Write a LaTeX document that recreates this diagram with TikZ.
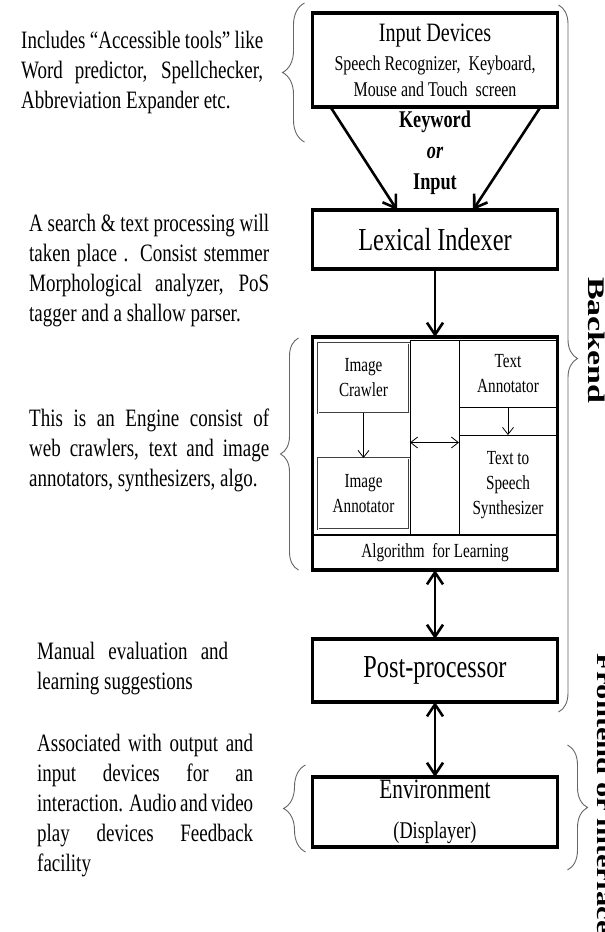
\documentclass[tikz,border=0pt]{standalone}
\usepackage{fontspec}
\setmainfont{Liberation Serif}[FakeStretch=0.76]
\newfontfamily\plainserif{Liberation Serif}
\usetikzlibrary{arrows.meta,positioning,calc,decorations.pathreplacing}

\begin{document}
\begin{tikzpicture}[x=1pt, y=-1pt,
    >={Straight Barb[length=12pt,width=16pt]},
    box/.style={rectangle, draw, line width=3.5pt, minimum width=245pt, inner sep=0pt, outer sep=0pt, align=center},
    inbox/.style={rectangle, draw, line width=0.8pt, inner sep=0pt, outer sep=0pt, align=center, font=\fontsize{20}{25}\selectfont},
    note/.style={anchor=north west, inner sep=0pt, align=justify, font=\fontsize{25}{30}\selectfont},
    brc/.style={decorate, decoration={brace, amplitude=#1}, draw=black!60, line width=0.9pt},
    thinarr/.style={line width=0.8pt, -{Straight Barb[length=7pt,width=11pt]}},
    thinboth/.style={line width=0.8pt, {Straight Barb[length=7pt,width=11pt]}-{Straight Barb[length=7pt,width=11pt]}}]
        \path[use as bounding box, fill=white] (0,0) rectangle (605,932);

        % Main column
        \node (input) [box, minimum height=94pt, font=\fontsize{21}{26}\selectfont] at (435,60) {{\fontsize{26.5}{26}\selectfont Input Devices}\\[3pt] Speech Recognizer,\ \ Keyboard,\\ Mouse and Touch\ \ screen};
        \node (kw) [below=4pt of input, inner sep=0pt, align=center, font=\bfseries\fontsize{24}{31}\selectfont] {Keyword\\{\itshape or}\\Input};
        \node (lex) [box, minimum height=59pt, below=103pt of input, font=\fontsize{32}{32}\selectfont] {Lexical Indexer};
        \node (engine) [box, minimum height=233pt, below=68pt of lex] {};
        \node (post) [box, minimum height=63pt, below=69pt of engine, font=\fontsize{32}{32}\selectfont] {Post-processor};
        \node (env) [box, minimum height=70pt, below=75pt of post, font=\fontsize{24}{28}\selectfont] {{\fontsize{28}{28}\selectfont Environment}\\[12pt](Displayer)};

        % Engine parts
        \node (imgcrawl) [inbox, draw=black!75, double, double distance=0.8pt, line width=0.6pt, minimum width=91pt, minimum height=70pt] at (363.5,378) {Image\\Crawler};
        \node (imgann) [inbox, draw=black!75, double, double distance=0.8pt, line width=0.6pt, minimum width=91pt, minimum height=71pt] at (363.5,493.5) {Image\\Annotator};
        \node (hub) [inbox, minimum width=49pt, minimum height=195pt] at (434.5,437.5) {};
        \node (txtann) [inbox, minimum width=98pt, minimum height=67pt] at (508,373.5) {Text\\Annotator};
        \node (tts) [inbox, minimum width=98pt, minimum height=100pt] at (508,485) {Text to\\Speech\\Synthesizer};
        \node (algo) [inbox, line width=2.5pt, minimum width=245pt, minimum height=35pt] at (435,552.5) {Algorithm\ \ for Learning};
        \draw[line width=3.5pt] (engine.north west) rectangle (engine.south east);

        % Arrows
        \draw[->, line width=2.6pt] ($(input.south west)+(18,0)$) -- ($(lex.north)+(-38,0)$);
        \draw[->, line width=2.6pt] ($(input.south east)+(-17,0)$) -- ($(lex.north)+(38,0)$);
        \draw[->, line width=2.6pt] (lex) -- (engine);
        \draw[<->, line width=2.6pt] (engine) -- (post);
        \draw[<->, line width=2.6pt] (post) -- (env);
        \draw[thinarr] (imgcrawl) -- (imgann);
        \draw[thinarr] (txtann) -- (tts);
        \draw[thinboth] ([yshift=-5pt]hub.west) -- ([yshift=-5pt]hub.east);

        % Notes on the left
        \node (n1) [note, text width=242pt] at (21,31) {Includes “Accessible tools” like\linebreak Word predictor, Spellchecker,\linebreak Abbreviation Expander etc.};
        \node (n2) [note, text width=240pt] at (29,214) {A search \& text processing will\linebreak taken place . Consist stemmer\linebreak Morphological analyzer, PoS\linebreak tagger and a shallow parser.};
        \node (n3) [note, text width=240pt] at (29,409) {This is an Engine consist of\linebreak web crawlers, text and image\linebreak annotators, synthesizers, algo.};
        \node (n4) [note, text width=191pt] at (37,642) {Manual evaluation and\linebreak learning suggestions};
        \node (n5) [note, text width=216pt] at (37,734) {Associated with output and\linebreak input devices for an\linebreak interaction. Audio and video\linebreak play devices Feedback\linebreak facility};

        % Braces
        \draw[brc=22pt] ($(input.south west)+(-8,35)$) -- ($(input.north west)+(-8,-10)$);
        \draw[brc=18pt] ($(engine.south west)+(-14,0)$) -- ($(engine.north west)+(-14,1)$);
        \draw[brc=22pt] ($(env.south west)+(-7,5)$) -- ($(env.north west)+(-7,-12)$);
        \draw[brc=19pt] ($(input.north east)+(1,-8)$) -- ($(post.south east)+(1,10)$);
        \draw[brc=20pt] ($(env.north east)+(10,-32)$) -- ($(env.south east)+(10,23)$);

        % Side labels
        \node (backlbl) [rotate=-90, anchor=base west, inner sep=0pt, font=\plainserif\bfseries\fontsize{34}{34}\selectfont] at (588,277) {\scalebox{1}[0.7]{Backend}};
        \node (frontlbl) [rotate=-90, anchor=base west, inner sep=0pt, font=\plainserif\bfseries\fontsize{30.5}{30.5}\selectfont] at (597,653) {\scalebox{1}[0.7]{Frontend or interface}};
    \end{tikzpicture}
\end{document}
